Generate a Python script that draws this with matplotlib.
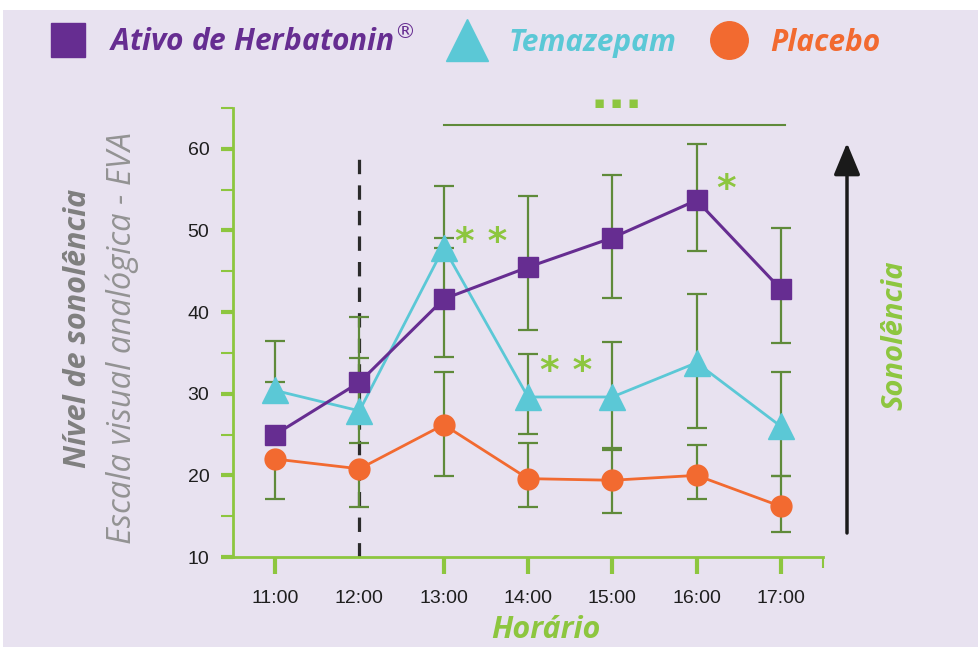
import numpy as np
import matplotlib
matplotlib.use("Agg")
import matplotlib.pyplot as plt
from matplotlib.lines import Line2D
from matplotlib.patches import Rectangle
from matplotlib.font_manager import FontProperties

# values
hours = [11, 12, 13, 14, 15, 16, 17]
hour_labels = ["11:00", "12:00", "13:00", "14:00", "15:00", "16:00", "17:00"]

herb = [25.0, 31.4, 41.6, 45.5, 49.1, 53.7, 42.8]
tema = [30.4, 27.9, 47.9, 29.6, 29.6, 33.8, 26.0]
plac = [22.0, 20.8, 26.2, 19.6, 19.4, 20.0, 16.2]

# error bar ends (low / high) as drawn in the picture
herb_lo = [np.nan, 31.4, 34.5, 37.8, 41.7, 47.5, 36.2]
herb_hi = [np.nan, 39.4, 49.1, 54.2, 56.8, 60.6, 50.3]
tema_lo = [31.4, 24.0, 47.9, 25.1, 23.1, 25.8, 19.9]
tema_hi = [36.5, 34.4, 55.5, 34.9, 36.3, 42.2, 32.7]
plac_lo = [17.1, 16.1, 19.9, 16.1, 15.4, 17.1, 13.1]
plac_hi = [22.0, 20.8, 32.7, 24.0, 23.3, 23.7, 19.9]

series_names = ["Ativo de Herbatonin$^{®}$", "Temazepam", "Placebo"]

PURPLE = "#662d91"
CYAN = "#5bc8d6"
ORANGE = "#f26a30"
OLIVE = "#5f8a3a"
LGREEN = "#8dc63f"
GREY = "#7f7f7f"
BG = "#e8e2f0"

W, H = 979, 647
fig = plt.figure(figsize=(W / 100, H / 100), dpi=100, facecolor="white")
fig.patches.append(Rectangle((3 / W, 0), 1, 1 - 10 / H, transform=fig.transFigure,
                             facecolor=BG, edgecolor="none", zorder=-10))

ax = fig.add_axes([233 / W, 1 - 557 / H, (823 - 233) / W, (557 - 108) / H])
ax.set_facecolor("none")
ax.set_xlim(10.5, 17.5)
ax.set_ylim(10, 65)

# error bars
for lo, hi in [(herb_lo, herb_hi), (tema_lo, tema_hi), (plac_lo, plac_hi)]:
    lo = np.array(lo)
    hi = np.array(hi)
    ax.errorbar(hours, (lo + hi) / 2, yerr=(hi - lo) / 2, fmt="none", ecolor=OLIVE,
                elinewidth=1.6, capsize=7, capthick=1.6, zorder=2)

# dashed reference line at 12:00
ax.plot([12, 12], [10, 60], color="#2b2b2b", lw=2.3, ls=(0, (4.5, 3.5)), zorder=1.5)

ax.plot(hours, plac, color=ORANGE, lw=2, marker="o", ms=15, mec=ORANGE, zorder=3)
ax.plot(hours, tema, color=CYAN, lw=2, marker="^", ms=19, mec=CYAN, zorder=3)
ax.plot(hours, herb, color=PURPLE, lw=2.2, marker="s", ms=14, mec=PURPLE, zorder=4)

# axes styling
for s in ["top", "right"]:
    ax.spines[s].set_visible(False)
for s in ["left", "bottom"]:
    ax.spines[s].set_color(LGREEN)
    ax.spines[s].set_linewidth(2)

ax.set_yticks([10, 20, 30, 40, 50, 60])
ax.set_yticks([15, 25, 35, 45, 55, 65], minor=True)
ax.set_xticks(hours)
ax.set_xticklabels(hour_labels)
ax.set_xticks([17.5], minor=True)
ax.tick_params(axis="y", which="major", color=LGREEN, width=3, length=9, pad=8)
ax.tick_params(axis="y", which="minor", color=LGREEN, width=1.5, length=9)
ax.tick_params(axis="x", which="major", color=LGREEN, width=3, length=12, pad=12)
ax.tick_params(axis="x", which="minor", color=LGREEN, width=1.5, length=8)
ax.xaxis.get_major_ticks()[1].tick1line.set_visible(False)

tick_font = FontProperties(family=["Liberation Sans Narrow", "Liberation Sans", "DejaVu Sans"], size=14)
for lab in ax.get_xticklabels() + ax.get_yticklabels():
    lab.set_fontproperties(tick_font)
    lab.set_color("#1e1e1e")

# significance marks
ax.plot([13, 17.05], [62.9, 62.9], color=OLIVE, lw=1.5, clip_on=False)
ax.text(15.05, 65.6, "▪ ▪ ▪", color=LGREEN, fontsize=12, fontweight="bold",
        ha="center", va="center", clip_on=False)
star = dict(color=LGREEN, fontsize=27, fontweight="bold", ha="center", va="center",
            family="DejaVu Sans")
ax.text(13.44, 48.5, "* *", **star)
ax.text(14.45, 32.7, "* *", **star)
ax.text(16.35, 55.0, "*", **star)

# arrow on the right
ax.annotate("", xy=(847 / W, 1 - 143 / H), xytext=(847 / W, 1 - 533 / H),
            xycoords="figure fraction", textcoords="figure fraction",
            arrowprops=dict(arrowstyle="-|>,head_length=0.65,head_width=0.27",
                            mutation_scale=30, lw=2.5, color="#1a1a1a",
                            shrinkA=0, shrinkB=0))

label_bold = dict(family="Open Sans", weight="bold", style="italic")
fig.text(78 / W, 1 - 328 / H, "Nível de sonolência", rotation=90, ha="center", va="center",
         color=GREY, fontsize=22, **label_bold)
fig.text(122 / W, 1 - 338 / H, "Escala visual analógica - EVA", rotation=90, ha="center",
         va="center", color="#939393", fontsize=23.5, family="Open Sans", weight="normal",
         style="italic")
fig.text(546 / W, 1 - 630 / H, "Horário", ha="center", va="center", color=LGREEN,
         fontsize=22, **label_bold)
fig.text(895 / W, 1 - 335 / H, "Sonolência", rotation=90, ha="center", va="center",
         color=LGREEN, fontsize=21, **label_bold)

# legend
handles = [
    Line2D([], [], marker="s", ls="none", color=PURPLE, ms=24),
    Line2D([], [], marker="^", ls="none", color=CYAN, ms=30),
    Line2D([], [], marker="o", ls="none", color=ORANGE, ms=27),
]
leg = fig.legend(handles, series_names, loc="center left", bbox_to_anchor=(38 / W, 1 - 42 / H),
                 ncol=3, frameon=False, handlelength=1.2, handletextpad=0.78,
                 columnspacing=1.17, borderaxespad=0,
                 prop=FontProperties(family="Open Sans", weight="bold", style="italic", size=21.5))
for t, c in zip(leg.get_texts(), [PURPLE, CYAN, ORANGE]):
    t.set_color(c)

fig.savefig("out.png", dpi=100, facecolor=fig.get_facecolor())
